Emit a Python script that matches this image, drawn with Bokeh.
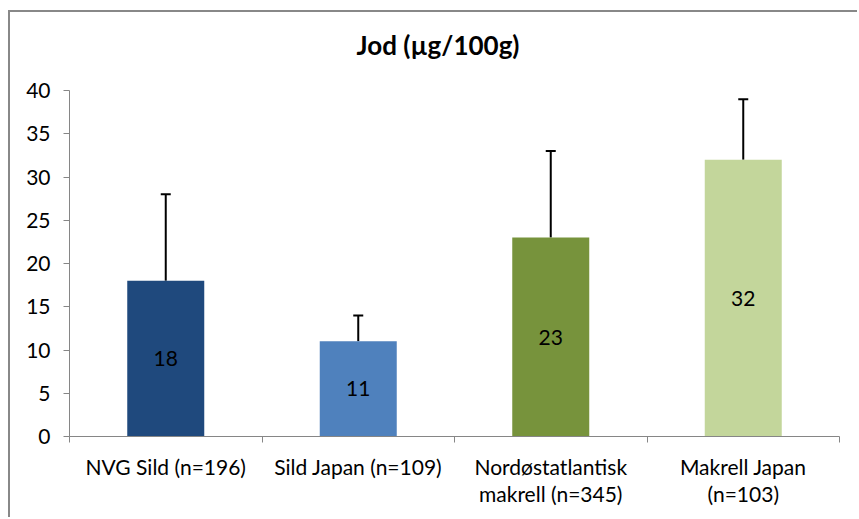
from bokeh.plotting import figure
from bokeh.models import ColumnDataSource, FixedTicker, Whisker, TeeHead, Title
from bokeh.core.properties import value
from bokeh.embed import file_html
from bokeh.resources import INLINE

title_text = "Jod (µg/100g)"
categories = ["NVG Sild (n=196)", "Sild Japan (n=109)", "Nordøstatlantisk\nmakrell (n=345)", "Makrell Japan\n(n=103)"]
values = [18, 11, 23, 32]
errors = [10, 3, 10, 7]
colors = ["#1F497D", "#4F81BD", "#77933C", "#C3D69B"]
y_ticks = [0, 5, 10, 15, 20, 25, 30, 35, 40]

FONT = "Lato"

xs = [i + 0.5 for i in range(len(categories))]
source = ColumnDataSource(dict(
    x=xs,
    value=values,
    upper=[v + e for v, e in zip(values, errors)],
    mid=[v / 2 for v in values],
    label=[str(v) for v in values],
    color=colors,
))

p = figure(width=849, height=507, output_backend="svg", toolbar_location=None,
           x_range=(0, len(categories)), y_range=(0, 40),
           min_border_left=59, min_border_right=20, min_border_top=78, min_border_bottom=83)
p.margin = (10, 0, 0, 8)
p.styles = {"border-left": "2px solid #888888", "border-top": "2px solid #888888"}
p.outline_line_color = None
p.grid.visible = False
p.background_fill_color = "white"
p.border_fill_color = "white"

p.vbar(x="x", top="value", bottom=0, width=0.4, color="color", line_color=None, source=source)

p.add_layout(Whisker(source=source, base="x", upper="upper", lower="value",
                     upper_head=TeeHead(size=10, line_width=2, line_color="black"),
                     lower_head=None, line_width=2, line_color="black"))

p.text(x="x", y="mid", text="label", source=source, text_align="center", text_baseline="middle",
       text_font=value(FONT), text_font_size="21px", text_color="#000000")

# spacer between frame and title, then the title itself
p.add_layout(Title(text=" ", text_font=FONT, text_font_size="10px", standoff=10), "above")
p.add_layout(Title(text=title_text, align="left", offset=287, vertical_align="middle", standoff=10,
                   text_font=FONT, text_font_size="26px", text_font_style="bold", text_color="#000000"), "above")

# axes
p.xaxis.ticker = FixedTicker(ticks=xs, minor_ticks=list(range(len(categories) + 1)))
p.xaxis.major_label_overrides = {x: c for x, c in zip(xs, categories)}
p.xaxis.major_tick_out = 0
p.xaxis.major_tick_in = 0
p.xaxis.minor_tick_out = 6
p.xaxis.minor_tick_in = 0
p.xaxis.minor_tick_line_color = "#868686"
p.xaxis.axis_line_color = "#868686"
p.xaxis.major_label_standoff = 11
p.xaxis.major_label_text_font = FONT
p.xaxis.major_label_text_font_size = "21px"
p.xaxis.major_label_text_line_height = 1.1
p.xaxis.major_label_text_color = "#000000"

p.yaxis.ticker = FixedTicker(ticks=y_ticks)
p.yaxis.major_tick_out = 6
p.yaxis.major_tick_in = 0
p.yaxis.minor_tick_line_color = None
p.yaxis.major_tick_line_color = "#868686"
p.yaxis.axis_line_color = "#868686"
p.yaxis.major_label_standoff = 13
p.yaxis.major_label_text_font = FONT
p.yaxis.major_label_text_font_size = "21px"
p.yaxis.major_label_text_color = "#000000"

open("out.html", "w").write(file_html(p, INLINE))
